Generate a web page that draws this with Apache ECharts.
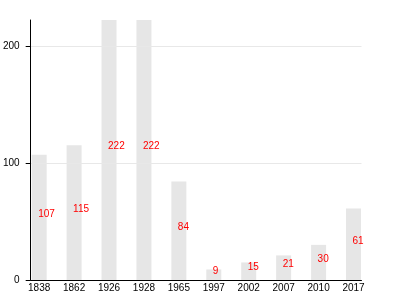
<!DOCTYPE html>
<html>
<head>
<meta charset="utf-8">
<script src="https://cdn.jsdelivr.net/npm/echarts@6/dist/echarts.min.js"></script>
<style>
html,body{margin:0;padding:0;background:#fff;}
#chart{width:400px;height:300px;}
</style>
</head>
<body>
<div id="chart"></div>
<script>
const years = ['1838','1862','1926','1928','1965','1997','2002','2007','2010','2017'];
const values = [107, 115, 222, 222, 84, 9, 15, 21, 30, 61];
const yTicks = [0, 100, 200];

const chart = echarts.init(document.getElementById('chart'), null, {renderer: 'canvas'});
const font = 'Liberation Sans, Arial, Helvetica, sans-serif';
chart.setOption({
  animation: false,
  grid: {left: 30, right: 38.5, top: 20, bottom: 20, containLabel: false},
  xAxis: {
    type: 'value',
    min: -0.243,
    max: 9.229,
    z: 5,
    axisLine: {show: true, onZero: false, lineStyle: {color: '#000', width: 1}},
    axisTick: {show: false},
    splitLine: {show: false},
    axisLabel: {
      customValues: years.map((y, i) => i),
      formatter: v => years[Math.round(v)],
      color: '#000', fontSize: 10, fontFamily: font, margin: 3
    }
  },
  yAxis: {
    type: 'value',
    min: 0,
    max: 222,
    z: 5,
    axisLine: {show: true, onZero: false, lineStyle: {color: '#000', width: 1}},
    axisTick: {show: true, length: 5, customValues: yTicks, lineStyle: {color: '#000'}},
    axisLabel: {customValues: yTicks, color: '#000', fontSize: 10, fontFamily: font, margin: 11},
    splitLine: {show: true, lineStyle: {color: '#e8e8e8', width: 1}}
  },
  series: [{
    type: 'bar',
    barWidth: 15,
    z: 2,
    data: values.map((v, i) => [i, v]),
    itemStyle: {color: '#e6e6e6'},
    label: {
      show: true,
      position: ['50%', '50%'],
      align: 'left',
      verticalAlign: 'middle',
      offset: [-1, -3.5],
      color: '#ff0000',
      fontSize: 10,
      fontFamily: font,
      formatter: p => p.value[1]
    }
  }]
});
</script>
</body>
</html>
